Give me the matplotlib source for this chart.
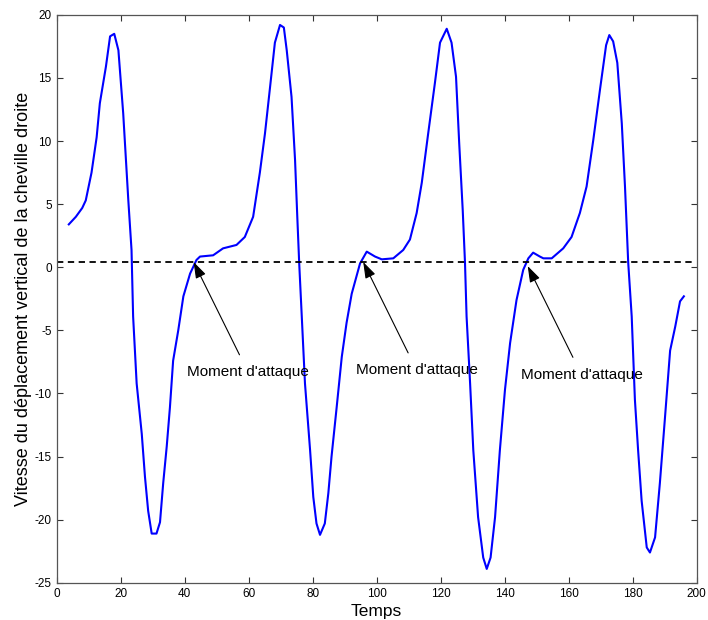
import numpy as np
import matplotlib.pyplot as plt

plt.rcParams['font.family'] = ['Liberation Sans', 'DejaVu Sans']
plt.rcParams['axes.unicode_minus'] = False

# vertical ankle velocity
temps = [3.8, 6, 8, 9.1, 10.9, 12.5, 13.5, 15.4, 16.7, 18, 19.3, 20.8, 22.4, 23.4, 23.9,
         25, 26.6, 27.6, 28.6, 29.7, 31.2, 32.3, 33.3, 34.4, 35.4, 36.4, 38, 39.6, 41.7,
         43.7, 44.8, 48.9, 52, 56.2, 58.8, 61.4, 63.5, 65.1, 66.7, 68.2, 69.8, 71, 71.9,
         73.4, 74.5, 75.2, 75.8, 76.6, 77.6, 79.2, 80.2, 81.2, 82.3, 83.8, 84.9, 85.9,
         87.5, 89.1, 90.6, 92.2, 94.8, 96.9, 99.5, 101.6, 105.2, 108.3, 110.4, 112.5,
         114.1, 116.1, 118.2, 119.8, 121.9, 123.4, 124.8, 125.8, 126.9, 127.6, 128.1,
         129.2, 130.2, 131.7, 133.3, 134.4, 135.6, 137, 138.5, 140.1, 141.7, 143.7,
         145.8, 147.4, 148.9, 151, 152.1, 154.7, 158.3, 160.9, 163.5, 165.6, 167.7,
         169.8, 171.7, 172.7, 173.9, 175.2, 176.6, 177.6, 178.6, 179.7, 180.7, 181.7,
         182.8, 184.4, 185.4, 187, 188.5, 190.1, 191.7, 193.3, 194.8, 196]
vitesse = [3.4, 4.0, 4.7, 5.3, 7.5, 10.3, 13.0, 15.9, 18.3, 18.5, 17.2, 12.2, 5.3, 1.37, -3.9,
           -9.2, -13.2, -16.6, -19.3, -21.1, -21.1, -20.2, -17.1, -14.2, -11.1, -7.4, -5.0,
           -2.3, -0.5, 0.58, 0.85, 0.95, 1.5, 1.77, 2.4, 4.0, 7.5, 10.6, 14.3, 17.8, 19.2,
           19.0, 17.2, 13.5, 8.5, 4.0, 0.3, -3.9, -9.2, -14.5, -18.2, -20.3, -21.2, -20.3,
           -17.9, -15.0, -11.1, -7.1, -4.4, -2.1, 0.3, 1.24, 0.85, 0.63, 0.71, 1.37, 2.2,
           4.3, 6.7, 10.6, 14.6, 17.8, 18.9, 17.8, 15.1, 9.8, 4.5, 0.4, -3.9, -9.2, -14.5,
           -19.8, -23.0, -23.9, -23.0, -19.8, -14.5, -9.7, -6.0, -2.6, -0.2, 0.71, 1.16,
           0.85, 0.71, 0.71, 1.5, 2.4, 4.3, 6.4, 10.1, 14.1, 17.6, 18.4, 17.9, 16.2, 11.4,
           6.4, 0.4, -3.9, -10.5, -14.5, -18.5, -22.2, -22.6, -21.4, -17.1, -11.9, -6.6,
           -4.7, -2.7, -2.3]

seuil = 0.42
seuil_x = [0, 199]

# attack moments (arrow tip) and label positions
attaque_x = [42.8, 95.8, 147.2]
attaque_y = [0.42, 0.42, 0.1]
texte_x = [59.8, 112.5, 164.0]
texte_y = [-8.3, -8.15, -8.5]

fig = plt.figure(figsize=(7.08, 6.2), dpi=100)
ax = fig.add_axes([0.080, 0.060, 0.904, 0.916])

ax.plot(temps, vitesse, color='#0000ff', lw=1.5)
ax.plot(seuil_x, [seuil, seuil], color='black', lw=1.3, linestyle=(0, (3.5, 2.5)))

for xa, ya, xt, yt in zip(attaque_x, attaque_y, texte_x, texte_y):
    ax.annotate("Moment d'attaque", xy=(xa, ya), xytext=(xt, yt),
                ha='center', va='center', fontsize=11,
                arrowprops=dict(arrowstyle='-|>,head_length=0.9,head_width=0.3',
                                color='black', lw=0.8, shrinkA=6, shrinkB=0))

ax.set_xlim(0, 200)
ax.set_ylim(-25, 20)
ax.set_xticks(np.arange(0, 201, 20))
ax.set_yticks(np.arange(-25, 21, 5))
ax.tick_params(direction='in', length=4.5, width=0.8, labelsize=8.5,
               top=True, right=True, colors='#333333', labelcolor='black')
for s in ax.spines.values():
    s.set_color('#555555')
    s.set_linewidth(0.9)

ax.set_xlabel('Temps', fontsize=12.5, labelpad=3)
ax.set_ylabel('Vitesse du déplacement vertical de la cheville droite', fontsize=13, labelpad=2)

fig.savefig('out.png', dpi=100)
